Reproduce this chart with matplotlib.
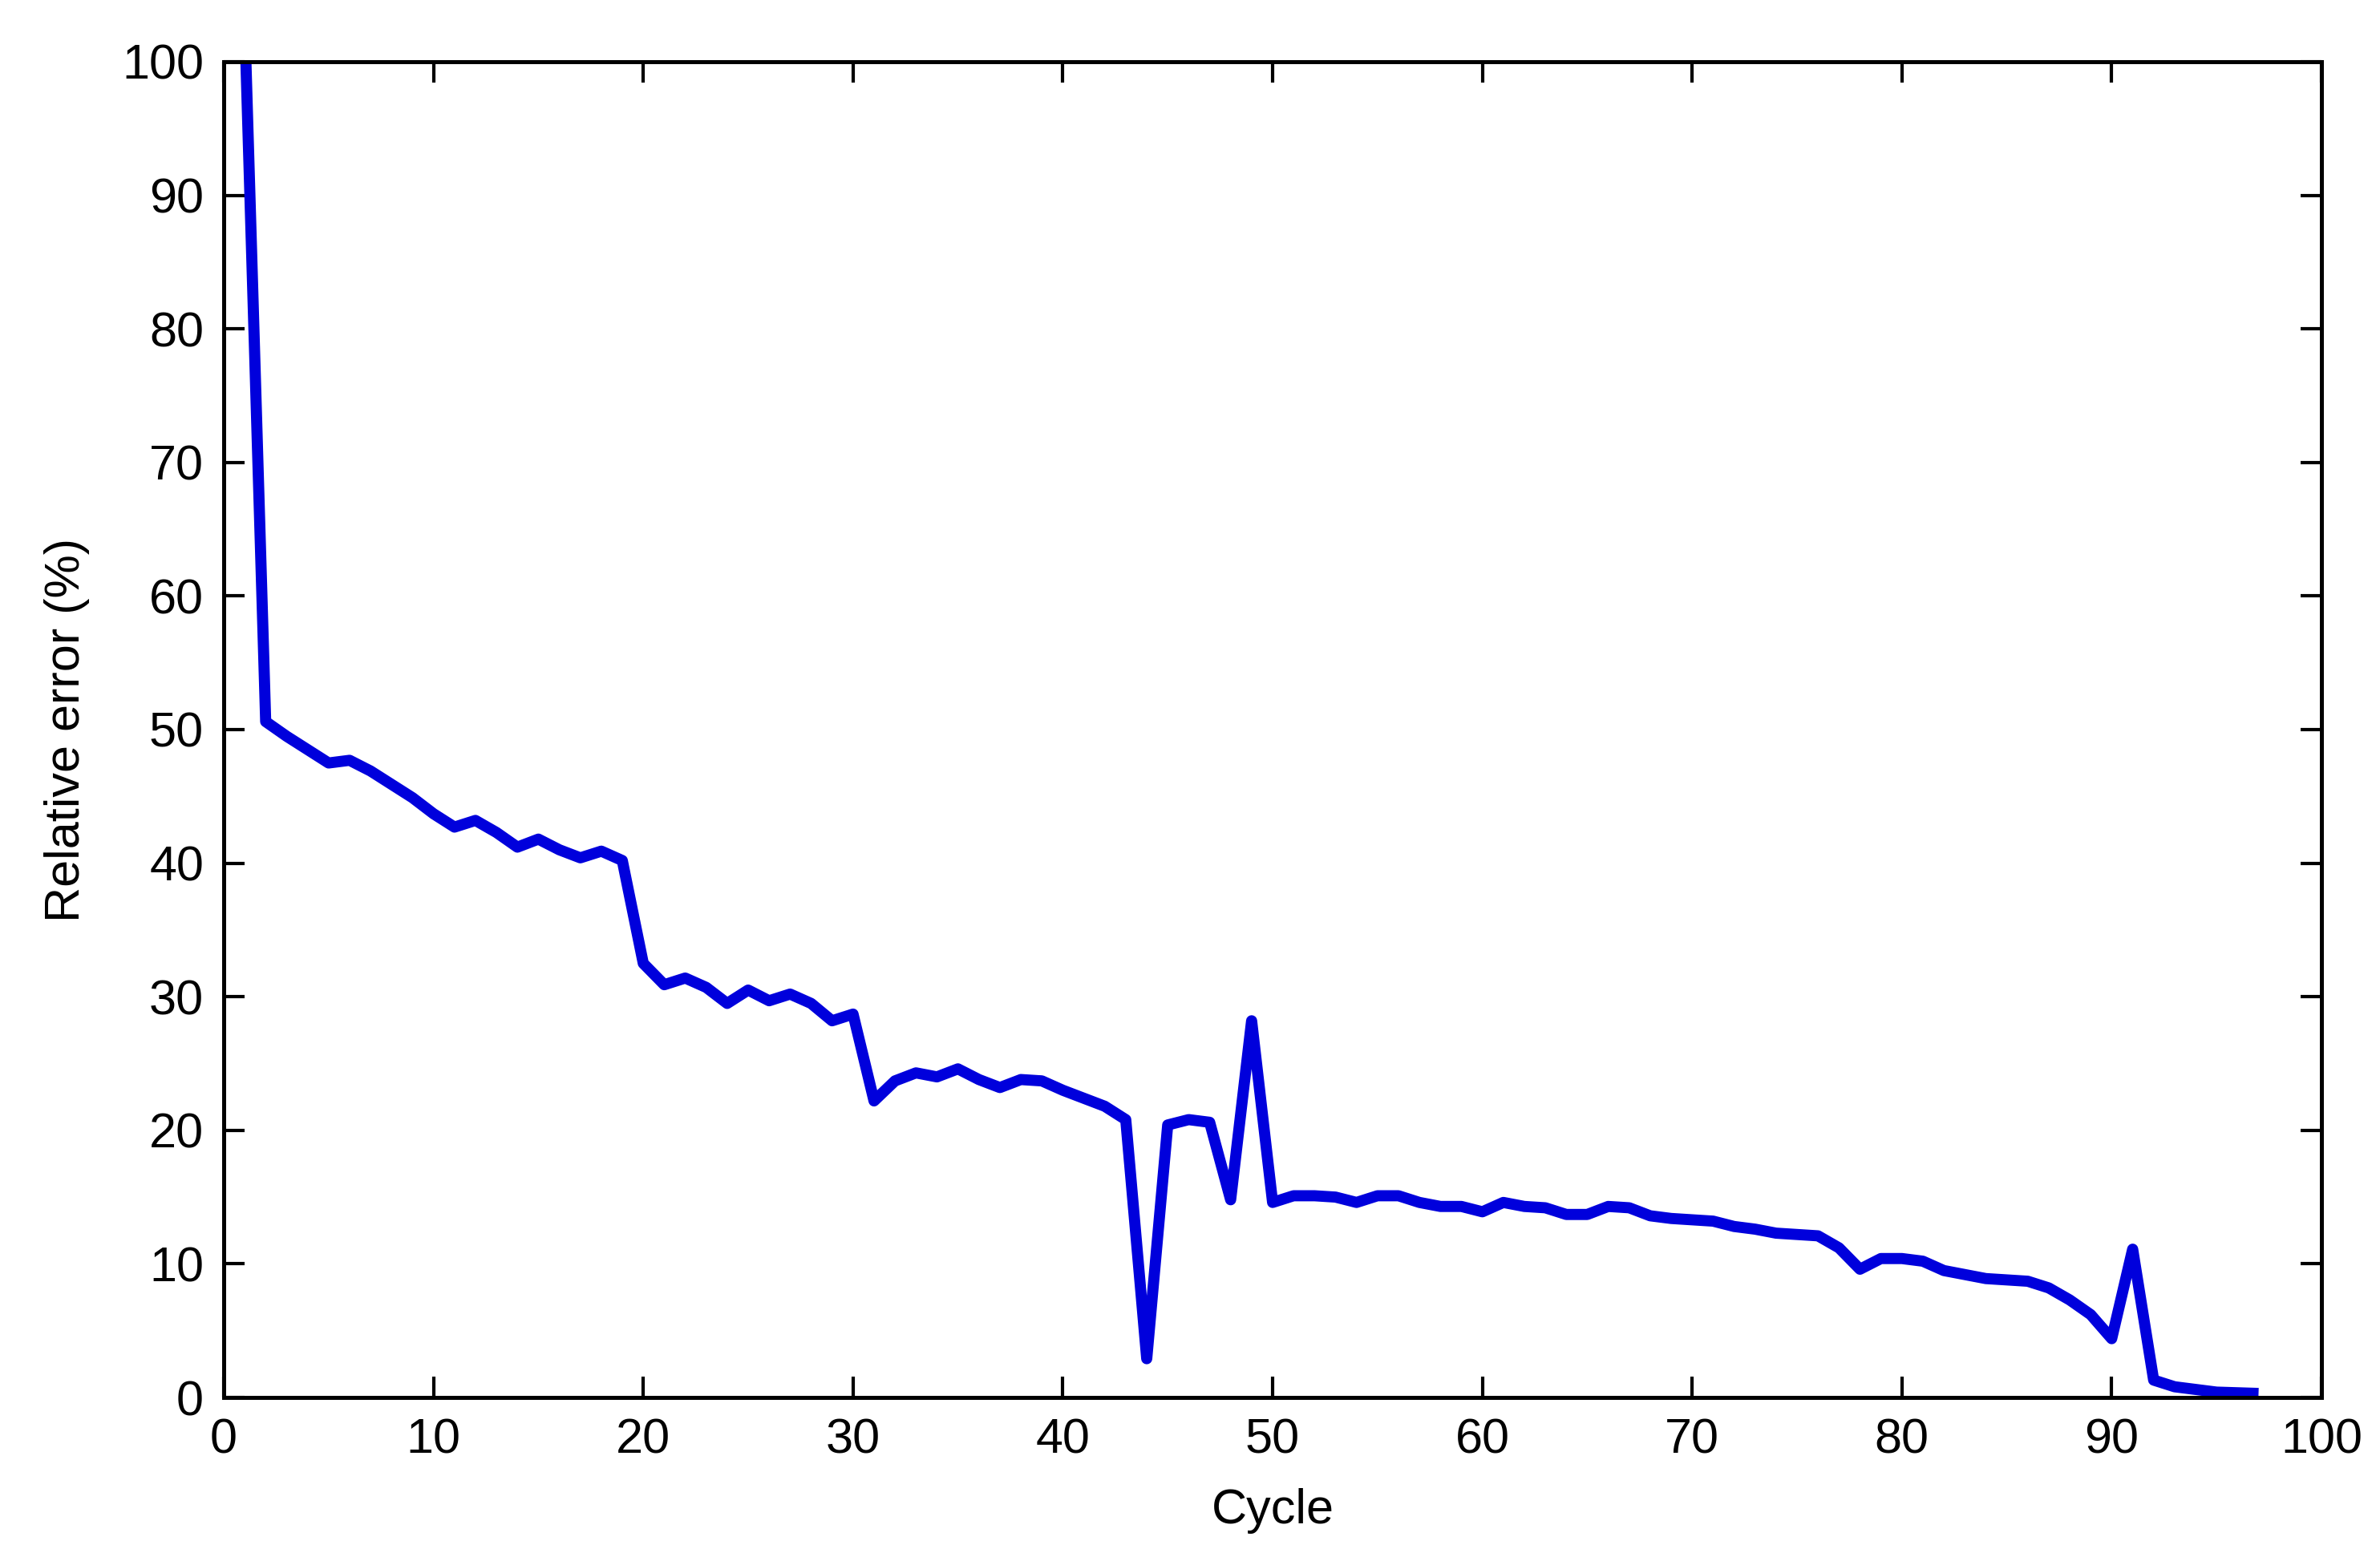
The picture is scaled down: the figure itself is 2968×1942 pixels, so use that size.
import matplotlib
matplotlib.use("Agg")
import matplotlib.pyplot as plt
from matplotlib import font_manager

# ---- data ----
cycles = list(range(1, 98))
rel_error = [
    103.0, 50.6, 49.5, 48.5, 47.5, 47.7, 46.9, 45.9, 44.9, 43.7,   # 1-10
    42.7, 43.2, 42.3, 41.2, 41.8, 41.0, 40.4, 40.9, 40.2, 32.5,    # 11-20
    30.9, 31.4, 30.7, 29.5, 30.5, 29.7, 30.2, 29.5, 28.2, 28.7,    # 21-30
    22.2, 23.7, 24.3, 24.0, 24.6, 23.8, 23.2, 23.8, 23.7, 23.0,    # 31-40
    22.4, 21.8, 20.8, 2.9, 20.4, 20.8, 20.6, 14.8, 28.2, 14.6,     # 41-50
    15.1, 15.1, 15.0, 14.6, 15.1, 15.1, 14.6, 14.3, 14.3, 13.9,    # 51-60
    14.6, 14.3, 14.2, 13.7, 13.7, 14.3, 14.2, 13.6, 13.4, 13.3,    # 61-70
    13.2, 12.8, 12.6, 12.3, 12.2, 12.1, 11.2, 9.6, 10.4, 10.4,     # 71-80
    10.2, 9.5, 9.2, 8.9, 8.8, 8.7, 8.2, 7.3, 6.2, 4.4,             # 81-90
    11.1, 1.3, 0.8, 0.6, 0.4, 0.35, 0.3,                           # 91-97
]
xticks = list(range(0, 101, 10))
yticks = list(range(0, 101, 10))
xlabel = "Cycle"
ylabel = "Relative error (%)"

# ---- font ----
avail = {f.name for f in font_manager.fontManager.ttflist}
fams = [f for f in ["Liberation Sans Narrow", "Liberation Sans", "DejaVu Sans"] if f in avail]
plt.rcParams["font.family"] = fams

DPI = 200
fig = plt.figure(figsize=(2968 / DPI, 1942 / DPI), dpi=DPI, facecolor="white")
ax = fig.add_axes([279 / 2968, 1 - 1743 / 1942, (2895 - 279) / 2968, (1743 - 77) / 1942])

ax.plot(cycles, rel_error, color="#0000DC", lw=5.0,
        solid_joinstyle="round", solid_capstyle="butt")

ax.set_xlim(0, 100)
ax.set_ylim(0, 100)
ax.set_xticks(xticks)
ax.set_yticks(yticks)
ax.set_xticklabels([str(t) for t in xticks])
ax.set_yticklabels([str(t) for t in yticks])

fs = 22
ax.tick_params(axis="both", which="both", direction="in", length=9.5, width=1.5,
               top=True, right=True, labelsize=fs, pad=9, colors="black")
for s in ax.spines.values():
    s.set_linewidth(1.8)
    s.set_color("black")

ax.set_xlabel(xlabel, fontsize=fs)
ax.set_ylabel(ylabel, fontsize=fs)
ax.xaxis.set_label_coords(0.5, -0.068)
ax.yaxis.set_label_coords(-0.064, 0.5)

fig.savefig("out.png", dpi=DPI, facecolor="white")
